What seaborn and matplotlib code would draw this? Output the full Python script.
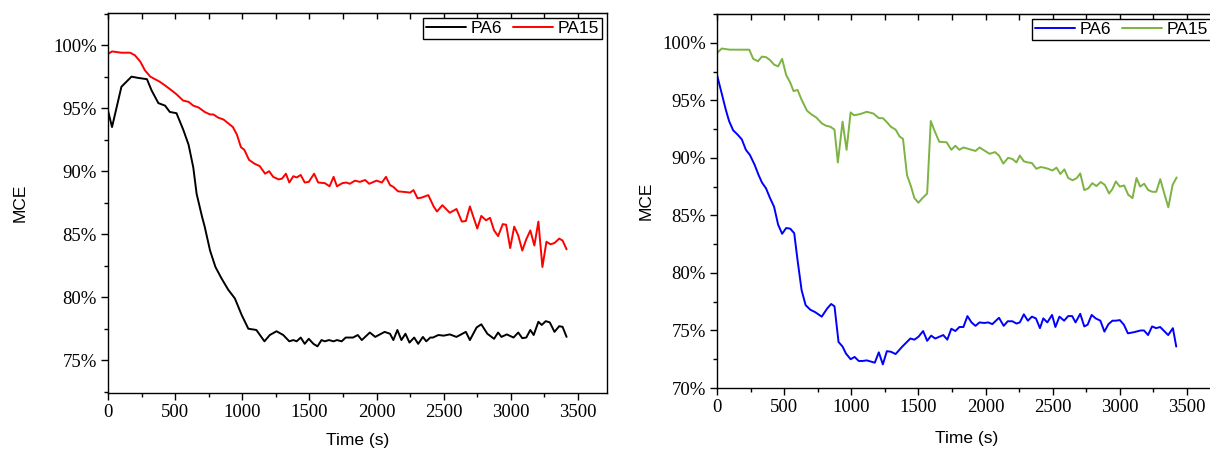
import matplotlib
matplotlib.use("Agg")
import matplotlib.pyplot as plt
import seaborn as sns
from matplotlib.ticker import MultipleLocator, PercentFormatter, NullFormatter

# left panel: PA6 (black) and PA15 (red), MCE in %
left_pa6_t = [0, 30, 100, 175, 225, 290, 325, 375, 425, 460,
              510, 560, 600, 635, 660, 700, 720, 760, 800, 845,
              895, 945, 995, 1045, 1105, 1165, 1205, 1255, 1305, 1350,
              1380, 1405, 1435, 1465, 1495, 1530, 1560, 1590, 1615, 1645,
              1680, 1705, 1740, 1770, 1825, 1860, 1890, 1950, 1990, 2060,
              2100, 2125, 2155, 2185, 2215, 2245, 2280, 2310, 2345, 2370,
              2400, 2420, 2460, 2500, 2545, 2595, 2665, 2695, 2745, 2780,
              2825, 2875, 2905, 2930, 2970, 3020, 3055, 3085, 3115, 3145,
              3170, 3205, 3230, 3260, 3290, 3325, 3360, 3385, 3415]
left_pa6_mce = [94.8, 93.5, 96.7, 97.5, 97.4, 97.3, 96.4, 95.4, 95.2, 94.7,
                94.6, 93.3, 92.1, 90.3, 88.2, 86.4, 85.6, 83.7, 82.4, 81.5,
                80.6, 79.9, 78.6, 77.5, 77.4, 76.5, 77.0, 77.3, 77.0, 76.5,
                76.6, 76.5, 76.8, 76.3, 76.7, 76.3, 76.1, 76.6, 76.5, 76.6,
                76.5, 76.6, 76.5, 76.8, 76.8, 77.0, 76.6, 77.2, 76.85, 77.25,
                77.1, 76.6, 77.4, 76.6, 77.1, 76.4, 76.8, 76.3, 76.85, 76.5,
                76.8, 76.8, 77.0, 76.95, 77.05, 76.85, 77.25, 76.6, 77.6, 77.85,
                77.1, 76.7, 77.2, 76.85, 77.05, 76.8, 77.2, 76.75, 76.8, 77.4,
                77.0, 78.05, 77.8, 78.1, 78.0, 77.25, 77.7, 77.65, 76.85]

left_pa15_t = [0, 30, 100, 165, 200, 240, 275, 315, 350, 385,
               425, 475, 510, 560, 600, 635, 675, 720, 760, 785,
               820, 860, 895, 930, 960, 990, 1015, 1050, 1090, 1130,
               1170, 1200, 1230, 1270, 1295, 1325, 1350, 1380, 1405, 1435,
               1465, 1495, 1535, 1565, 1615, 1650, 1680, 1705, 1745, 1775,
               1800, 1840, 1875, 1915, 1945, 2000, 2040, 2070, 2100, 2125,
               2160, 2210, 2250, 2275, 2305, 2335, 2385, 2425, 2450, 2490,
               2545, 2595, 2635, 2665, 2695, 2720, 2750, 2780, 2815, 2845,
               2875, 2905, 2940, 2965, 2995, 3025, 3055, 3085, 3115, 3145,
               3175, 3205, 3235, 3265, 3295, 3325, 3360, 3385, 3415]
left_pa15_mce = [99.3, 99.5, 99.4, 99.4, 99.2, 98.7, 98.0, 97.5, 97.3, 97.1,
                 96.8, 96.4, 96.1, 95.6, 95.5, 95.2, 95.05, 94.7, 94.5, 94.5,
                 94.25, 94.1, 93.8, 93.5, 92.9, 91.9, 91.7, 90.9, 90.6, 90.4,
                 89.8, 90.0, 89.55, 89.35, 89.4, 89.8, 89.1, 89.6, 89.5, 89.7,
                 89.1, 89.15, 89.8, 89.1, 89.05, 88.8, 89.55, 88.8, 89.05, 89.1,
                 89.0, 89.25, 89.15, 89.3, 89.0, 89.25, 89.1, 89.55, 88.9, 88.75,
                 88.4, 88.35, 88.3, 88.5, 87.85, 87.9, 88.1, 87.2, 86.8, 87.3,
                 86.7, 87.0, 86.0, 86.05, 87.2, 86.4, 85.45, 86.45, 86.1, 86.3,
                 85.3, 84.85, 85.8, 85.75, 83.9, 85.6, 84.9, 83.7, 84.6, 85.3,
                 84.1, 86.0, 82.4, 84.4, 84.2, 84.3, 84.65, 84.5, 83.8]

# right panel: PA6 (blue) and PA15 (green)
right_pa6_t = [0, 35, 65, 90, 120, 155, 185, 215, 245, 280,
               310, 335, 365, 395, 425, 455, 485, 515, 545, 575,
               600, 630, 660, 695, 730, 780, 820, 850, 875, 905,
               935, 960, 995, 1025, 1055, 1085, 1115, 1145, 1175, 1205,
               1235, 1265, 1295, 1330, 1380, 1440, 1470, 1500, 1535, 1565,
               1595, 1625, 1685, 1715, 1745, 1775, 1805, 1835, 1865, 1895,
               1925, 1955, 1990, 2020, 2050, 2100, 2135, 2165, 2200, 2230,
               2255, 2285, 2315, 2345, 2375, 2405, 2430, 2460, 2495, 2520,
               2550, 2585, 2615, 2645, 2670, 2705, 2735, 2760, 2790, 2820,
               2855, 2885, 2915, 2945, 2970, 3000, 3030, 3060, 3105, 3155,
               3180, 3210, 3240, 3270, 3300, 3330, 3360, 3395, 3420]
right_pa6_mce = [97.2, 95.6, 94.2, 93.2, 92.4, 92.0, 91.6, 90.7, 90.25, 89.4,
                 88.5, 87.85, 87.35, 86.5, 85.75, 84.2, 83.4, 83.9, 83.85, 83.45,
                 81.1, 78.5, 77.2, 76.8, 76.6, 76.2, 76.9, 77.3, 77.1, 74.0,
                 73.6, 73.0, 72.5, 72.7, 72.35, 72.35, 72.4, 72.3, 72.2, 73.1,
                 72.05, 73.2, 73.15, 72.95, 73.6, 74.3, 74.2, 74.45, 74.95, 74.1,
                 74.55, 74.3, 74.6, 74.2, 75.15, 74.95, 75.3, 75.3, 76.25, 75.7,
                 75.4, 75.7, 75.65, 75.7, 75.55, 76.1, 75.4, 75.8, 75.8, 75.6,
                 75.7, 76.4, 75.85, 76.2, 76.05, 75.2, 76.05, 75.7, 76.35, 75.3,
                 76.2, 75.85, 76.25, 76.25, 75.7, 76.45, 75.35, 75.5, 76.35, 76.05,
                 75.85, 74.9, 75.55, 75.85, 75.85, 75.9, 75.5, 74.75, 74.85, 75.0,
                 75.0, 74.6, 75.35, 75.2, 75.3, 74.95, 74.6, 75.2, 73.6]

right_pa15_t = [0, 35, 95, 170, 240, 270, 305, 335, 365, 395,
                425, 455, 485, 515, 545, 570, 600, 630, 670, 700,
                740, 780, 810, 845, 875, 900, 935, 965, 995, 1020,
                1065, 1115, 1165, 1205, 1235, 1265, 1295, 1330, 1360, 1385,
                1415, 1445, 1470, 1500, 1530, 1565, 1592, 1620, 1655, 1710,
                1745, 1775, 1805, 1835, 1865, 1895, 1925, 1955, 2030, 2070,
                2100, 2132, 2168, 2200, 2230, 2255, 2285, 2315, 2345, 2378,
                2410, 2435, 2465, 2498, 2528, 2557, 2587, 2615, 2648, 2680,
                2705, 2735, 2765, 2795, 2825, 2858, 2888, 2920, 2945, 2970,
                3000, 3032, 3062, 3094, 3124, 3151, 3181, 3211, 3241, 3271,
                3301, 3331, 3361, 3393, 3423]
right_pa15_mce = [99.1, 99.5, 99.4, 99.4, 99.4, 98.6, 98.4, 98.8, 98.75, 98.5,
                  98.1, 97.95, 98.6, 97.2, 96.55, 95.8, 95.9, 95.05, 94.1, 93.8,
                  93.5, 93.0, 92.8, 92.7, 92.45, 89.6, 93.15, 90.7, 93.95, 93.7,
                  93.8, 94.0, 93.85, 93.45, 93.45, 93.1, 92.7, 92.45, 91.85, 91.65,
                  88.5, 87.5, 86.5, 86.1, 86.5, 86.9, 93.2, 92.35, 91.4, 91.35,
                  90.7, 91.05, 90.7, 90.9, 90.8, 90.7, 90.6, 90.9, 90.35, 90.5,
                  90.2, 89.5, 90.0, 89.9, 89.6, 90.2, 89.7, 89.6, 89.55, 89.05,
                  89.2, 89.15, 89.05, 88.9, 89.15, 88.6, 89.0, 88.25, 88.05, 88.25,
                  88.65, 87.2, 87.35, 87.8, 87.55, 87.9, 87.65, 86.9, 87.3, 87.95,
                  87.5, 87.6, 86.8, 86.5, 88.25, 87.5, 87.75, 87.2, 87.05, 87.05,
                  88.15, 86.9, 85.7, 87.65, 88.3]

sns.set_style("ticks", {"text.color": "black", "axes.labelcolor": "black",
                        "xtick.color": "black", "ytick.color": "black",
                        "axes.edgecolor": "black"})
serif = "Liberation Serif"
sans = "Liberation Sans"

fig = plt.figure(figsize=(12.1, 4.54), dpi=100)
ax1 = fig.add_axes([108 / 1210, 1 - 393 / 454, 499 / 1210, 380 / 454])
ax2 = fig.add_axes([717 / 1210, 1 - 388 / 454, 499 / 1210, 374 / 454])

sns.lineplot(x=left_pa6_t, y=left_pa6_mce, color="black", lw=1.4, label="PA6", ax=ax1)
sns.lineplot(x=left_pa15_t, y=left_pa15_mce, color="#FF0000", lw=1.4, label="PA15", ax=ax1)
sns.lineplot(x=right_pa6_t, y=right_pa6_mce, color="#0000FF", lw=1.4, label="PA6", ax=ax2)
sns.lineplot(x=right_pa15_t, y=right_pa15_mce, color="#7CB342", lw=1.4, label="PA15", ax=ax2)

ax1.set_ylim(72.4, 102.55)
ax2.set_ylim(70, 102.5)
ylab_x = {ax1: -0.162, ax2: -0.128}
xlab_y = {ax1: -0.105, ax2: -0.115}

for ax in (ax1, ax2):
    ax.set_xlim(0, 3716)
    ax.xaxis.set_major_locator(MultipleLocator(500))
    ax.xaxis.set_minor_locator(MultipleLocator(250))
    ax.yaxis.set_major_locator(MultipleLocator(5))
    ax.yaxis.set_minor_locator(MultipleLocator(2.5))
    ax.yaxis.set_major_formatter(PercentFormatter(decimals=0))
    ax.tick_params(which="major", direction="out", length=5, width=1.0, pad=3,
                   labelsize=13.5, color="black", labelcolor="black")
    ax.tick_params(which="minor", direction="out", length=3, width=1.0, color="black")
    for lab in ax.get_xticklabels() + ax.get_yticklabels():
        lab.set_fontfamily(serif)
    for s in ax.spines.values():
        s.set_visible(True)
        s.set_linewidth(1.0)
        s.set_color("black")

    # inward ticks along the top edge, no labels
    top = ax.secondary_xaxis("top")
    top.xaxis.set_major_locator(MultipleLocator(250))
    top.xaxis.set_major_formatter(NullFormatter())
    top.tick_params(direction="in", length=4, width=1.0, color="black")

    ax.set_xlabel("Time (s)", fontsize=12.5, family=sans, color="black")
    ax.set_ylabel("MCE", fontsize=12.5, family=sans, color="black")
    ax.yaxis.set_label_coords(ylab_x[ax], 0.5)
    ax.xaxis.set_label_coords(0.5, xlab_y[ax])
    leg = ax.legend(loc="upper right", ncol=2, frameon=True, fancybox=False,
                    edgecolor="black", framealpha=1, borderpad=0.15,
                    handlelength=2.3, handletextpad=0.3, columnspacing=0.6,
                    borderaxespad=0.3, prop={"family": sans, "size": 12.5})
    leg.get_frame().set_linewidth(1.0)
    for txt in leg.get_texts():
        txt.set_color("black")

plt.savefig("out.png", dpi=100)
